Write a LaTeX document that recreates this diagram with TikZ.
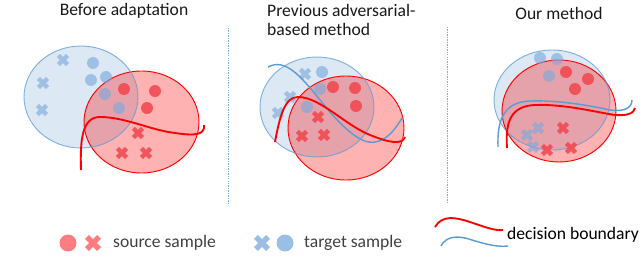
\documentclass[tikz,border=0pt]{standalone}
\usepackage{fontspec}
\setmainfont{Carlito}
\definecolor{azzurro}{HTML}{DCE9F5}
\definecolor{bluebordo}{HTML}{5B9BD5}
\definecolor{bluept}{HTML}{7AA8DC}
\definecolor{rossopt}{HTML}{F24A52}
\definecolor{rossoleg}{HTML}{FF7C80}
\definecolor{grigio}{HTML}{404040}
\tikzset{
  croce/.pic={\fill[rotate=45] (-2.2,-6.5)--(2.2,-6.5)--(2.2,-2.2)--(6.5,-2.2)--(6.5,2.2)--(2.2,2.2)
     --(2.2,6.5)--(-2.2,6.5)--(-2.2,2.2)--(-6.5,2.2)--(-6.5,-2.2)--(-2.2,-2.2)--cycle;},
  croceleg/.pic={\fill[rotate=45] (-2.8,-8.5)--(2.8,-8.5)--(2.8,-2.8)--(8.5,-2.8)--(8.5,2.8)--(2.8,2.8)
     --(2.8,8.5)--(-2.8,8.5)--(-2.8,2.8)--(-8.5,2.8)--(-8.5,-2.8)--(-2.8,-2.8)--cycle;}
}
\begin{document}
\begin{tikzpicture}[x=0.03cm,y=-0.03cm,
    elblu/.style={fill=azzurro},
    elrosso/.style={draw=red,line width=0.8pt,fill=red,fill opacity=0.3},
    bordoblu/.style={draw=bluebordo,line width=0.8pt,draw opacity=0.75},
    ptblu/.style={fill=bluept,fill opacity=0.62},
    ptrosso/.style={fill=rossopt,fill opacity=0.9},
    curvarossa/.style={draw=red,line width=1.6pt},
    curvablu/.style={draw=bluebordo,line width=1.2pt},
    titolo/.style={font=\fontsize{15}{17}\selectfont,text=black!90,inner sep=0pt},
    legenda/.style={font=\fontsize{15}{17}\selectfont,text=grigio,inner sep=0pt,anchor=west},
    separa/.style={draw=bluebordo!80,line width=0.7pt,dash pattern=on 1.2pt off 0.9pt}]
\useasboundingbox (0,0) rectangle (640,278);
%titoli
\node[titolo] (tit1) at (124,11) {Before adaptation};
\node[titolo,align=left,anchor=west] (tit2) at (267,20) {Previous adversarial-\\based method};
\node[titolo] (tit3) at (559,13) {Our method};
%separatori
\draw[separa] (228,28)--(228,203);
\draw[separa] (447,27)--(447,203);
%pannello 1
\fill[elblu] (81,97) ellipse [x radius=57,y radius=51];
\draw[elrosso] (141.5,122) ellipse [x radius=57.5,y radius=51];
\draw[bordoblu] (81,97) ellipse [x radius=57,y radius=51];
\foreach \p in {(93,63),(91,80),(106,77),(105,94),(119,108)} \fill[ptblu] \p circle [radius=6];
\foreach \p in {(63,60),(43,83),(42,110)} \pic[ptblu] at \p {croce};
\foreach \p in {(124,89),(155,91),(147,108)} \fill[ptrosso] \p circle [radius=6];
\foreach \p in {(138,133),(122,153),(146,153)} \pic[ptrosso] at \p {croce};
\draw[curvarossa] (81,170) ..controls (80,140) and (82,117).. (100,117)
      ..controls (125,117) and (150,130).. (175,133) ..controls (195,136) and (205,135).. (204,125);
%pannello 2
\fill[elblu] (317,107) ellipse [x radius=57,y radius=50];
\draw[elrosso] (346,128) ellipse [x radius=58,y radius=52];
\draw[bordoblu] (317,107) ellipse [x radius=57,y radius=50];
\foreach \p in {(322,72),(320,89),(307,107)} \fill[ptblu] \p circle [radius=6];
\foreach \p in {(305,74),(290,97),(278,113)} \pic[ptblu] at \p {croce};
\foreach \p in {(333,87),(355,88),(356,106)} \fill[ptrosso] \p circle [radius=6];
\foreach \p in {(318,117),(302,136),(324,135)} \pic[ptrosso] at \p {croce};
\draw[curvablu] (268,67) ..controls (285,58) and (300,75).. (320,100)
      ..controls (340,125) and (360,145).. (375,142) ..controls (388,140) and (396,128).. (402,118);
\draw[curvarossa] (275,142) ..controls (280,115) and (285,97).. (298,97)
      ..controls (320,97) and (345,125).. (370,135) ..controls (390,143) and (402,145).. (405,137);
%pannello 3
\fill[elblu] (552,100) ellipse [x radius=58,y radius=50];
\draw[elrosso] (559,111) ellipse [x radius=57,y radius=51];
\draw[bordoblu] (552,100) ellipse [x radius=58,y radius=50];
\foreach \p in {(540,58),(557,59),(549,76)} \fill[ptblu] \p circle [radius=6];
\foreach \p in {(527,135),(538,128),(533,147)} \pic[ptblu] at \p {croce};
\foreach \p in {(566,72),(588,79),(575,89)} \fill[ptrosso] \p circle [radius=6];
\foreach \p in {(563,128),(547,150),(571,148)} \pic[ptrosso] at \p {croce};
\draw[curvablu] (498,147) ..controls (497,118) and (505,102).. (530,101)
      ..controls (560,100) and (592,106).. (610,110) ..controls (624,112) and (632,108).. (632,100);
\draw[curvarossa] (507,148) ..controls (505,120) and (512,106).. (535,105)
      ..controls (565,104) and (595,112).. (615,115) ..controls (628,116) and (634,113).. (635,108);
%legenda
\fill[rossoleg] (68,243) circle [radius=8.5];
\pic[fill=rossoleg] at (93,243) {croceleg};
\node[legenda] (src) at (113,243) {source sample};
\pic[fill=bluept,fill opacity=0.75] at (262,243) {croceleg};
\fill[bluept,fill opacity=0.75] (285,243) circle [radius=8.5];
\node[legenda] (tgt) at (304,243) {target sample};
\draw[curvarossa] (435,227) ..controls (442,215) and (455,217).. (470,222) ..controls (485,227) and (495,231).. (503,230);
\draw[curvablu] (441,246) ..controls (446,236) and (458,235).. (472,240) ..controls (488,245) and (498,247).. (508,246);
\node[legenda,text=black] (dec) at (507,235) {decision boundary};
\end{tikzpicture}
\end{document}
